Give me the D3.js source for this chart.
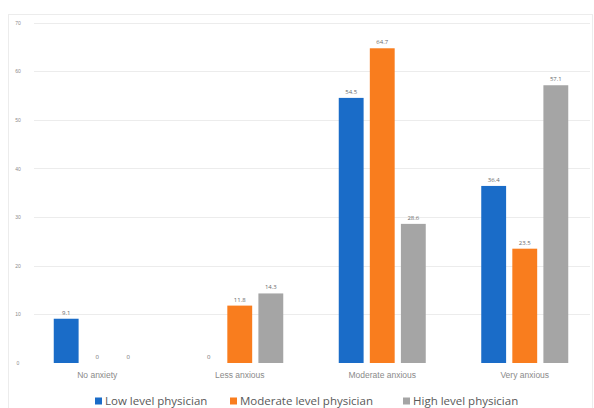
<!DOCTYPE html>
<html>
<head>
<meta charset="utf-8">
<script src="https://cdn.jsdelivr.net/npm/d3@7"></script>
<style>
  html, body { margin: 0; padding: 0; background: #fff; }
  svg { display: block; font-family: "Open Sans", "Liberation Sans", sans-serif; }
</style>
</head>
<body>
<svg id="chart" width="594" height="408"></svg>
<script>
// Anxiety level by physician level (%)
const categories = ["No anxiety", "Less anxious", "Moderate anxious", "Very anxious"];
const seriesNames = ["Low level physician", "Moderate level physician", "High level physician"];
const lowValues = [9.1, 0, 54.5, 36.4];
const moderateValues = [0, 11.8, 64.7, 23.5];
const highValues = [0, 14.3, 28.6, 57.1];
const yTicks = [0, 10, 20, 30, 40, 50, 60, 70];
const colors = ["#1a6cc8", "#f97d1e", "#a5a5a5"];

const seriesValues = [lowValues, moderateValues, highValues];

const svg = d3.select("#chart");

// Chart panel outline
svg.append("rect")
  .attr("x", 8.5).attr("y", 14.5)
  .attr("width", 584).attr("height", 400)
  .attr("fill", "#fff").attr("stroke", "#ececec");

const x0 = d3.scaleBand().domain(categories).range([26, 596]).paddingInner(0).paddingOuter(0);
const x1 = d3.scaleBand().domain(seriesNames).range([0, 87]).paddingInner(0.2).paddingOuter(0);
const y = d3.scaleLinear().domain([0, 70]).range([363, 22.5]);

// Gridlines
svg.append("g")
  .selectAll("line")
  .data(yTicks.filter(t => t > 0))
  .join("line")
  .attr("x1", 34).attr("x2", 590)
  .attr("y1", d => Math.round(y(d)) + 0.5)
  .attr("y2", d => Math.round(y(d)) + 0.5)
  .attr("stroke", "#ececec").attr("stroke-width", 1);

// Y axis tick labels
const yAxis = d3.axisLeft(y).tickValues(yTicks).tickSize(0).tickPadding(0);
const yg = svg.append("g").attr("transform", "translate(20,0)").call(yAxis);
yg.select(".domain").remove();
yg.selectAll("text")
  .attr("fill", "#8c8c8c")
  .attr("font-size", 5)
  .attr("text-anchor", "middle")
  .attr("dx", -2);

// Bars
const groups = svg.append("g")
  .selectAll("g")
  .data(categories)
  .join("g")
  .attr("transform", d => `translate(${x0(d) + x0.bandwidth() / 2 - 43.5},0)`);

groups.selectAll("rect")
  .data((c, i) => seriesNames.map((s, j) => ({ s, j, v: seriesValues[j][i] })))
  .join("rect")
  .attr("x", d => x1(d.s))
  .attr("width", x1.bandwidth())
  .attr("y", d => y(d.v))
  .attr("height", d => y(0) - y(d.v))
  .attr("fill", d => colors[d.j]);

// Value labels
groups.selectAll("text")
  .data((c, i) => seriesNames.map((s, j) => ({ s, j, v: seriesValues[j][i] })))
  .join("text")
  .attr("x", d => x1(d.s) + x1.bandwidth() / 2)
  .attr("y", d => y(d.v) - 4)
  .attr("text-anchor", "middle")
  .attr("font-size", 6)
  .attr("fill", "#6b6b6b")
  .text(d => d.v === 0 ? "0" : d.v.toFixed(1));

// Category axis labels
const xAxis = d3.axisBottom(x0).tickSize(0).tickPadding(0);
const xg = svg.append("g").attr("transform", "translate(0,377)").call(xAxis);
xg.select(".domain").remove();
xg.selectAll("text")
  .attr("fill", "#8a8a8a")
  .attr("font-size", 8.5)
  .attr("dy", "0.1em");

// Legend
const legendX = [95, 230, 403];
const legend = svg.append("g")
  .selectAll("g")
  .data(seriesNames)
  .join("g")
  .attr("transform", (d, i) => `translate(${legendX[i]},401)`);

legend.append("rect")
  .attr("x", 0).attr("y", -3.5)
  .attr("width", 7).attr("height", 7)
  .attr("fill", (d, i) => colors[i]);

legend.append("text")
  .attr("x", 10).attr("y", 0)
  .attr("dy", "0.35em")
  .attr("font-size", 11.5)
  .attr("fill", "#595959")
  .text(d => d);
</script>
</body>
</html>
